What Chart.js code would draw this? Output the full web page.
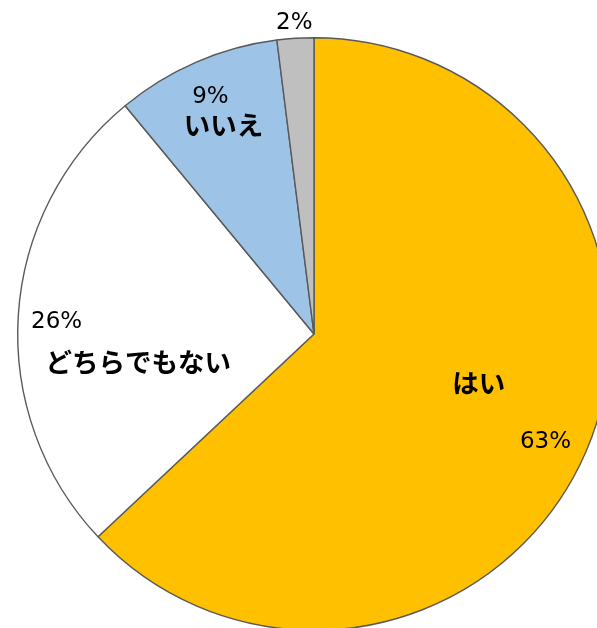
<!DOCTYPE html>
<html>
<head>
<meta charset="utf-8">
<script src="https://cdn.jsdelivr.net/npm/chart.js@4.4.0/dist/chart.umd.min.js"></script>
<style>
  html, body { margin: 0; padding: 0; background: #fff; overflow: hidden; }
  #wrap { position: relative; width: 597px; height: 628px; overflow: hidden; }
  #myChart { position: absolute; left: 0; top: 0; }
</style>
</head>
<body>
<div id="wrap"><canvas id="myChart" width="640" height="680"></canvas></div>
<script>
let answers = ["はい", "どちらでもない", "いいえ", "無回答"];
let counts = [63, 26, 9, 2];
let colors = ["#FFC000", "#FFFFFF", "#9DC3E6", "#BFBFBF"];

// where the text sits, as a share of the radius (null = no name drawn)
let pctRadius = [0.86, 0.87, 0.88, 1.06];
let pctShift = [1.3, -0.5, 0, 0]; // degrees
let nameRadius = [0.58, 0.6, 0.77, null];
let nameShift = [-7, -12.5, 0, 0]; // degrees, from the middle of the slice

let sliceLabels = {
  id: "sliceLabels",
  afterDatasetsDraw(chart) {
    let ctx = chart.ctx;
    let arcs = chart.getDatasetMeta(0).data;
    let total = counts.reduce((a, b) => a + b, 0);
    ctx.save();
    ctx.fillStyle = "#000";
    ctx.textAlign = "center";
    ctx.textBaseline = "middle";
    arcs.forEach((arc, i) => {
      let mid = (arc.startAngle + arc.endAngle) / 2;
      let r = arc.outerRadius;
      let pct = Math.round(counts[i] / total * 100) + "%";
      let p = mid + pctShift[i] * Math.PI / 180;
      ctx.font = "23px 'DejaVu Sans'";
      ctx.fillText(pct, arc.x + Math.cos(p) * r * pctRadius[i], arc.y + Math.sin(p) * r * pctRadius[i] + 2);
      if (nameRadius[i] !== null) {
        let a = mid + nameShift[i] * Math.PI / 180;
        ctx.font = "bold 26.5px 'Noto Sans CJK JP'";
        ctx.fillText(answers[i], arc.x + Math.cos(a) * r * nameRadius[i], arc.y + Math.sin(a) * r * nameRadius[i]);
      }
    });
    ctx.restore();
  }
};

var ctx = document.getElementById("myChart").getContext("2d");
var myChart = new Chart(ctx, {
  type: "pie",
  data: {
    labels: answers,
    datasets: [{
      data: counts,
      backgroundColor: colors,
      borderColor: "#595959",
      borderWidth: 1.4
    }]
  },
  options: {
    responsive: false,
    animation: false,
    devicePixelRatio: 1,
    layout: { padding: { left: 17, top: 37, right: 29, bottom: 49 } },
    plugins: {
      legend: { display: false },
      tooltip: { enabled: false }
    }
  },
  plugins: [sliceLabels]
});
</script>
</body>
</html>
